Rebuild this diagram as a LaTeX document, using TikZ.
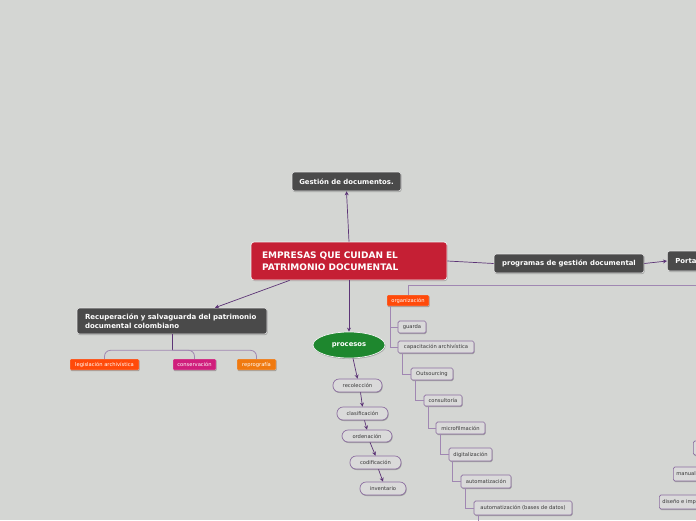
\documentclass[tikz,border=0pt]{standalone}
\usepackage{fontspec}
\setmainfont{DejaVu Sans}
\usetikzlibrary{arrows.meta,shapes.geometric,shadows}
\definecolor{bgc}{RGB}{212,214,211}
\definecolor{darkbox}{RGB}{74,74,74}
\definecolor{crimsonc}{RGB}{197,31,52}
\definecolor{pline}{RGB}{92,52,118}
\definecolor{lline}{RGB}{160,135,178}
\definecolor{pborder}{RGB}{140,110,160}
\definecolor{pillc}{RGB}{218,218,218}
\definecolor{orgred}{RGB}{255,74,10}
\definecolor{consc}{RGB}{208,30,124}
\definecolor{orangec}{RGB}{240,122,16}
\definecolor{procgreen}{RGB}{30,135,46}
\definecolor{txtc}{RGB}{55,55,55}
\tikzset{
  shad/.style={drop shadow={shadow xshift=0.6pt,shadow yshift=-1pt,opacity=0.25,fill=black}},
  darknode/.style={draw=white!80!gray,line width=0.6pt,fill=darkbox,rounded corners=2.5pt,text=white,
    font=\fontsize{6.9}{8}\selectfont\bfseries,inner sep=0pt,shad},
  tagnode/.style={draw=white!70!gray,line width=0.3pt,rounded corners=1pt,text=white,
    font=\fontsize{5.2}{6}\selectfont,inner sep=0pt,shad},
  pillnode/.style={draw=pborder,line width=0.7pt,fill=pillc,rounded corners=6pt,text=txtc,
    font=\fontsize{5.2}{6}\selectfont,inner sep=0pt,shad},
  boxnode/.style={draw=pborder,line width=0.7pt,fill=pillc,rounded corners=1.5pt,text=txtc,
    font=\fontsize{5.2}{6}\selectfont,inner sep=0pt,shad},
  parrow/.style={draw=pline,line width=0.7pt,-{Stealth[length=4pt,width=4pt]}},
  pconn/.style={draw=pline,line width=0.7pt},
  tline/.style={draw=lline,line width=0.8pt},
}
\begin{document}
\begin{tikzpicture}[x=1pt,y=-1pt]
\useasboundingbox[fill=bgc] (0,0) rectangle (696,520);

% main nodes
\node[darknode,minimum width=109pt,minimum height=19pt] (gestion) at (346.5,181.5) {Gestión de documentos.};
\node[draw=white!90!gray,line width=0.7pt,fill=crimsonc,rounded corners=3pt,text=white,
  font=\fontsize{9}{11.5}\selectfont\bfseries,inner sep=0pt,minimum width=196pt,minimum height=38pt,
  text width=174pt,align=left,shad] (central) at (349,261) {EMPRESAS QUE CUIDAN EL\\PATRIMONIO DOCUMENTAL};
\node[darknode,minimum width=150pt,minimum height=19pt] (programas) at (569,263.5) {programas de gestión documental};
\node[darknode,anchor=west,minimum width=70pt,minimum height=20pt,text width=54pt,align=left] (portal) at (667,261) {Portal};
\node[darknode,minimum width=190pt,minimum height=26pt,text width=174pt,align=left,
  font=\fontsize{7}{9.5}\selectfont\bfseries] (recup) at (172,321) {Recuperación y salvaguarda del patrimonio\\documental colombiano};

% tags under recuperacion
\node[tagnode,fill=orgred,minimum width=69pt,minimum height=11pt] (legis) at (104.5,364.5) {legislación archivística};
\node[tagnode,fill=consc,minimum width=43pt,minimum height=11pt] (cons) at (194.5,364.5) {conservación};
\node[tagnode,fill=orangec,minimum width=39pt,minimum height=11pt] (repro) at (256.5,364.5) {reprografía};

% procesos
\node[ellipse,draw=white!90!gray,line width=0.7pt,fill=procgreen,text=white,inner sep=0pt,
  minimum width=72pt,minimum height=26pt,font=\fontsize{6.8}{8}\selectfont\bfseries,shad] (procesos) at (349,345) {procesos};
\node[pillnode,minimum width=49pt,minimum height=13pt] (recol) at (357.5,385.5) {recolección};
\node[pillnode,minimum width=51pt,minimum height=13pt] (clasif) at (362.5,413.5) {clasificación};
\node[pillnode,minimum width=50pt,minimum height=12pt] (orden) at (367,436) {ordenación};
\node[pillnode,minimum width=51pt,minimum height=13pt] (codif) at (375.5,462.5) {codificación};
\node[pillnode,minimum width=46pt,minimum height=13pt] (invent) at (383,488.5) {inventario};

% organizacion tree
\node[tagnode,fill=orgred,minimum width=42pt,minimum height=11pt] (org) at (408,300.5) {organización};
\node[boxnode,minimum width=28pt,minimum height=12pt] (guarda) at (412,327) {guarda};
\node[boxnode,minimum width=76pt,minimum height=12pt] (capac) at (436,347) {capacitación archivística};
\node[boxnode,minimum width=42pt,minimum height=12pt] (outs) at (432,374) {Outsourcing};
\node[boxnode,minimum width=38pt,minimum height=11pt] (consul) at (443,400.5) {consultoría};
\node[boxnode,minimum width=49pt,minimum height=12pt] (micro) at (460.5,428) {microfilmación};
\node[boxnode,minimum width=43pt,minimum height=13pt] (digit) at (470.5,454.5) {digitalización};
\node[boxnode,minimum width=50pt,minimum height=13pt] (autom) at (486,481.5) {automatización};
\node[boxnode,minimum width=98pt,minimum height=14pt] (autobd) at (523,508) {automatización (bases de datos)};

% partly visible nodes at the right edge
\node[boxnode,anchor=west,minimum width=30pt,minimum height=14pt] (edge1) at (693,448) {};
\node[boxnode,anchor=west,minimum width=60pt,minimum height=14pt,text width=54pt,align=left] (manual) at (673,474) {manual};
\node[boxnode,anchor=west,minimum width=90pt,minimum height=14pt,text width=84pt,align=left] (diseno) at (659,502) {diseño e implementación};

% connectors from central node
\draw[parrow] (central.north) -- (gestion.south);
\draw[parrow] (central.south) -- (procesos.north);
\draw[parrow] ([xshift=39pt]central.south west) -- ([xshift=43pt]recup.north);
\draw[pconn] (central.east) -- (programas.west);
\draw[parrow] (programas.east) -- (portal.west);

% recuperacion branches
\path (recup.south) ++(0,16) coordinate (rj);
\draw[pconn] (recup.south) -- (rj);
\draw[tline,rounded corners=6pt] (legis.north) |- (rj) -| (repro.north);
\draw[tline,rounded corners=6pt] (rj) -| (cons.north);

% procesos chain
\draw[parrow] ([xshift=4pt]procesos.south) -- (recol.north);
\draw[parrow] ([xshift=3pt]recol.south) -- (clasif.north);
\draw[parrow] ([xshift=2pt]clasif.south) -- (orden.north);
\draw[parrow] ([xshift=3pt]orden.south) -- (codif.north);
\draw[parrow] ([xshift=3pt]codif.south) -- (invent.north);

% organizacion links
\coordinate (orgsrc) at (696,285.5);
\draw[tline] (org.north) |- (orgsrc);
\draw[tline] ([xshift=4pt]org.south west) |- (guarda.west);
\draw[tline] ([xshift=4pt]org.south west) |- (capac.west);
\draw[tline] ([xshift=5pt]capac.south west) |- (outs.west);
\draw[tline] ([xshift=5pt]outs.south west) |- (consul.west);
\draw[tline] ([xshift=5pt]consul.south west) |- (micro.west);
\draw[tline] ([xshift=5pt]micro.south west) |- (digit.west);
\draw[tline] ([xshift=4pt]digit.south west) |- (autom.west);
\draw[tline] ([xshift=5pt]autom.south west) |- (autobd.west);
\coordinate (autobdout) at (478,522);
\draw[tline] ([xshift=4pt]autobd.south west) -- (autobd.south west -| autobdout) -- (autobdout);
\end{tikzpicture}
\end{document}
